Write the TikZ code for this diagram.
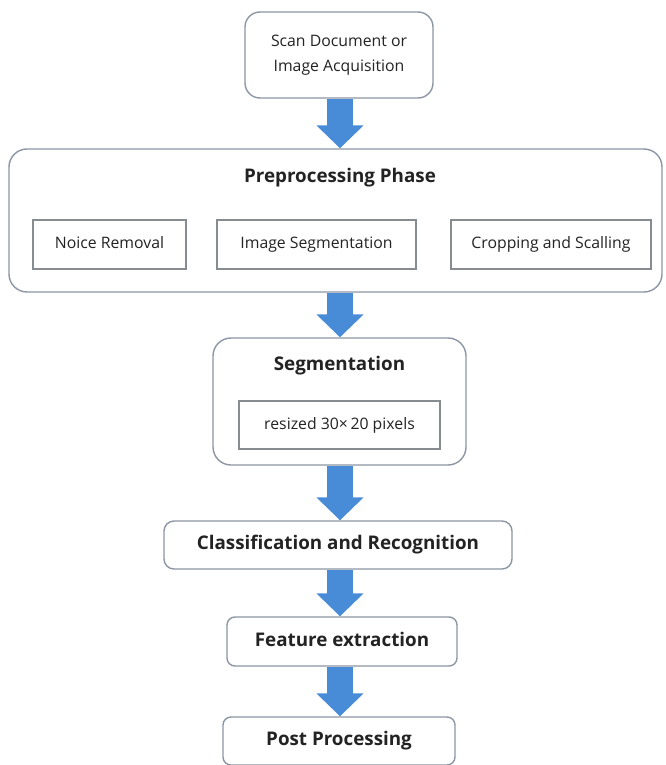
\documentclass[tikz,border=0pt]{standalone}
\usepackage{fontspec}
\setmainfont{Open Sans}
\usetikzlibrary{arrows.meta}
\definecolor{boxline}{RGB}{140,150,165}
\definecolor{innerline}{RGB}{135,140,145}
\definecolor{arrowblue}{RGB}{72,140,215}
\definecolor{txt}{RGB}{35,35,35}
\begin{document}
\begin{tikzpicture}[x=1pt,y=-1pt,
  rbox/.style={draw=boxline, line width=1.4pt, fill=white, inner sep=0pt, text=txt},
  ibox/.style={draw=innerline, line width=1.2pt, fill=white, inner sep=0pt, text=txt,
    font=\fontsize{15.8}{18}\selectfont, text height=11.5pt, text depth=3.5pt},
  ttl/.style={inner sep=0pt, text=txt, font=\fontsize{18.8}{22}\selectfont\bfseries},
  btext/.style={font=\fontsize{18.8}{22}\selectfont\bfseries, text height=13.5pt, text depth=4pt},
  blockarrow/.style={draw=arrowblue, line width=26pt,
    -{Triangle[width=46pt,length=23pt]}}
]
\useasboundingbox (0,0) rectangle (666,765);
\fill[white] (0,0) rectangle (666,765);
\coordinate (ax) at (340,0);

% top box
\node[rbox, rounded corners=15pt, minimum width=188pt, minimum height=86pt,
  align=center, font=\fontsize{15.8}{25}\selectfont] (scan) at (339,55)
  {Scan Document or\\Image Acquisition};

% preprocessing phase
\node[rbox, rounded corners=18pt, minimum width=653pt, minimum height=143pt] (pre) at (335.5,220.5) {};
\node[ttl] (pretitle) at (340,178) {Preprocessing Phase};
\node[ibox, minimum width=153pt, minimum height=49pt] (noise) at (109.5,244.5) {Noice Removal};
\node[ibox, minimum width=199pt, minimum height=49pt] (imgseg) at (316.5,244.5) {Image Segmentation};
\node[ibox, minimum width=200pt, minimum height=49pt] (crop) at (551,244.5) {Cropping and Scalling};

% segmentation
\node[rbox, rounded corners=18pt, minimum width=253pt, minimum height=127pt] (seg) at (339.5,401.5) {};
\node[ttl] (segtitle) at (339.5,366) {Segmentation};
\node[ibox, minimum width=201pt, minimum height=48pt] (resize) at (339.5,425) {resized 30\texttimes\,20 pixels};

% classification
\node[rbox, btext, rounded corners=10pt, minimum width=348pt, minimum height=48pt] (cls) at (338,545) {Classification and Recognition};

% feature extraction
\node[rbox, btext, rounded corners=8pt, minimum width=230pt, minimum height=49pt] (feat) at (342,641.5) {Feature extraction};

% post processing
\node[rbox, btext, rounded corners=8pt, minimum width=232pt, minimum height=48pt] (post) at (339,741) {Post Processing};

% block arrows
\draw[blockarrow] (scan.south -| ax) -- (pre.north -| ax);
\draw[blockarrow] (pre.south -| ax) -- (seg.north -| ax);
\draw[blockarrow] (seg.south -| ax) -- (cls.north -| ax);
\draw[blockarrow] (cls.south -| ax) -- (feat.north -| ax);
\draw[blockarrow] (feat.south -| ax) -- (post.north -| ax);
\end{tikzpicture}
\end{document}
